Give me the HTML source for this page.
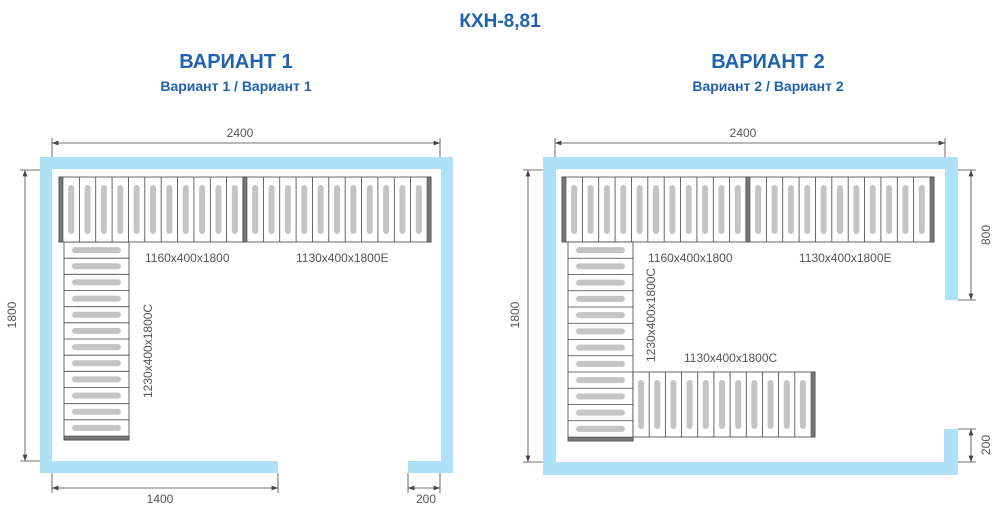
<!DOCTYPE html><html><head><meta charset="utf-8"><style>body{margin:0;background:#fff}svg{display:block}text{font-family:"Liberation Sans",sans-serif}</style></head><body>
<svg id="s" width="1000" height="510" xmlns="http://www.w3.org/2000/svg">
<defs><marker id="a" markerWidth="8" markerHeight="6" refX="8" refY="3" orient="auto-start-reverse"><path d="M0,0L8,3L0,6z" fill="#444"/></marker></defs>
<text x="500" y="27" text-anchor="middle" font-size="19" font-weight="bold" fill="#1f62ad">КХН-8,81</text>
<text x="236" y="68" text-anchor="middle" font-size="20" font-weight="bold" fill="#1f62ad">ВАРИАНТ 1</text>
<text x="236" y="91" text-anchor="middle" font-size="14" font-weight="bold" fill="#1f62ad">Вариант 1 / Вариант 1</text>
<text x="768" y="68" text-anchor="middle" font-size="20" font-weight="bold" fill="#1f62ad">ВАРИАНТ 2</text>
<text x="768" y="91" text-anchor="middle" font-size="14" font-weight="bold" fill="#1f62ad">Вариант 2 / Вариант 2</text>
<g id="g1"></g><g id="g2" transform="translate(503,0)"></g>
<g font-size="12" fill="#555">
<text x="240" y="137" text-anchor="middle">2400</text>
<text x="743" y="137" text-anchor="middle">2400</text>
<text x="160" y="503" text-anchor="middle">1400</text>
<text x="426" y="503" text-anchor="middle">200</text>
<text transform="translate(16,315) rotate(-90)" text-anchor="middle">1800</text>
<text transform="translate(519,315) rotate(-90)" text-anchor="middle">1800</text>
<text transform="translate(990,235) rotate(-90)" text-anchor="middle">800</text>
<text transform="translate(990,445) rotate(-90)" text-anchor="middle">200</text>
<text x="145" y="262">1160x400x1800</text>
<text x="296" y="262">1130x400x1800E</text>
<text x="648" y="262">1160x400x1800</text>
<text x="799" y="262">1130x400x1800E</text>
<text transform="translate(152,398) rotate(-90)">1230x400x1800C</text>
<text transform="translate(655,362) rotate(-90)">1230x400x1800C</text>
<text x="684" y="362">1130x400x1800C</text>
</g>
</svg>
<script>
const NS="http://www.w3.org/2000/svg";
function el(p,t,a){const e=document.createElementNS(NS,t);for(const k in a)e.setAttribute(k,a[k]);p.appendChild(e);return e;}
function R(p,x,y,w,h,f,s,sw,rx){return el(p,'rect',{x,y,width:w,height:h,fill:f||'none',stroke:s||'none','stroke-width':sw||1,rx:rx||0});}
function L(p,x1,y1,x2,y2,m){const a={x1,y1,x2,y2,stroke:'#444','stroke-width':0.8};if(m){a['marker-start']='url(#a)';a['marker-end']='url(#a)';}return el(p,'line',a);}
const W='#aee0f7';
// horizontal unit (vertical slots)
function hunit(p,x,y,w,h,n,capL,capR){R(p,x,y,w,h,'#fff','#444',0.8);let x0=x+(capL?4:0),x1=x+w-(capR?4:0);if(capL)R(p,x,y,4,h,'#777','#444',0.6);if(capR)R(p,x+w-4,y,4,h,'#777','#444',0.6);const sw=(x1-x0)/n;for(let i=0;i<n;i++){const sx=x0+i*sw;if(i>0)L(p,sx,y,sx,y+h);R(p,sx+sw/2-3,y+8,6,h-16,'#c4c4c4',null,0,3);}}
function vunit(p,x,y,w,h,n,capB){R(p,x,y,w,h,'#fff','#444',0.8);let y1=y+h-(capB?4:0);if(capB)R(p,x,y+h-4,w,4,'#777','#444',0.6);const sh=(y1-y)/n;for(let i=0;i<n;i++){const sy=y+i*sh;if(i>0)L(p,x,sy,x+w,sy);R(p,x+8,sy+sh/2-3,w-16,6,'#c4c4c4',null,0,3);}}
const g1=document.getElementById('g1'),g2=document.getElementById('g2');
// variant 1 walls
R(g1,40,157,12,316,W);R(g1,40,157,413,12,W);R(g1,441,157,12,316,W);R(g1,40,461,238,12,W);R(g1,408,461,45,12,W);
vunit(g1,64,242,65,198,12,true);
hunit(g1,59,177,184,65,11,true,false);hunit(g1,243,177,188,65,11,true,true);
// dims v1
L(g1,52,143,440,143,true);L(g1,52,138,52,157);L(g1,440,138,440,157);
L(g1,25,170,25,461,true);L(g1,20,170,40,170);L(g1,20,461,40,461);
L(g1,52,488,278,488,true);L(g1,52,473,52,493);L(g1,278,473,278,493);
L(g1,408,488,440,488,true);L(g1,408,473,408,493);L(g1,440,473,440,493);
// variant 2
R(g2,40,157,13,318,W);R(g2,40,157,415,12,W);R(g2,442,157,13,143,W);R(g2,40,462,415,13,W);R(g2,441,429,14,46,W);
hunit(g2,59,177,184,65,11,true,false);hunit(g2,243,177,188,65,11,true,true);
vunit(g2,65,242,65,199,12,true);
hunit(g2,130,372,182,65,11,false,true);
L(g2,52,143,442,143,true);L(g2,52,138,52,157);L(g2,442,138,442,157);
L(g2,25,170,25,462,true);L(g2,20,170,40,170);L(g2,20,462,40,462);
L(g2,468,170,468,300,true);L(g2,455,170,473,170);L(g2,455,300,473,300);
L(g2,468,429,468,462,true);L(g2,455,429,473,429);L(g2,455,462,473,462);
</script>
</body></html>
